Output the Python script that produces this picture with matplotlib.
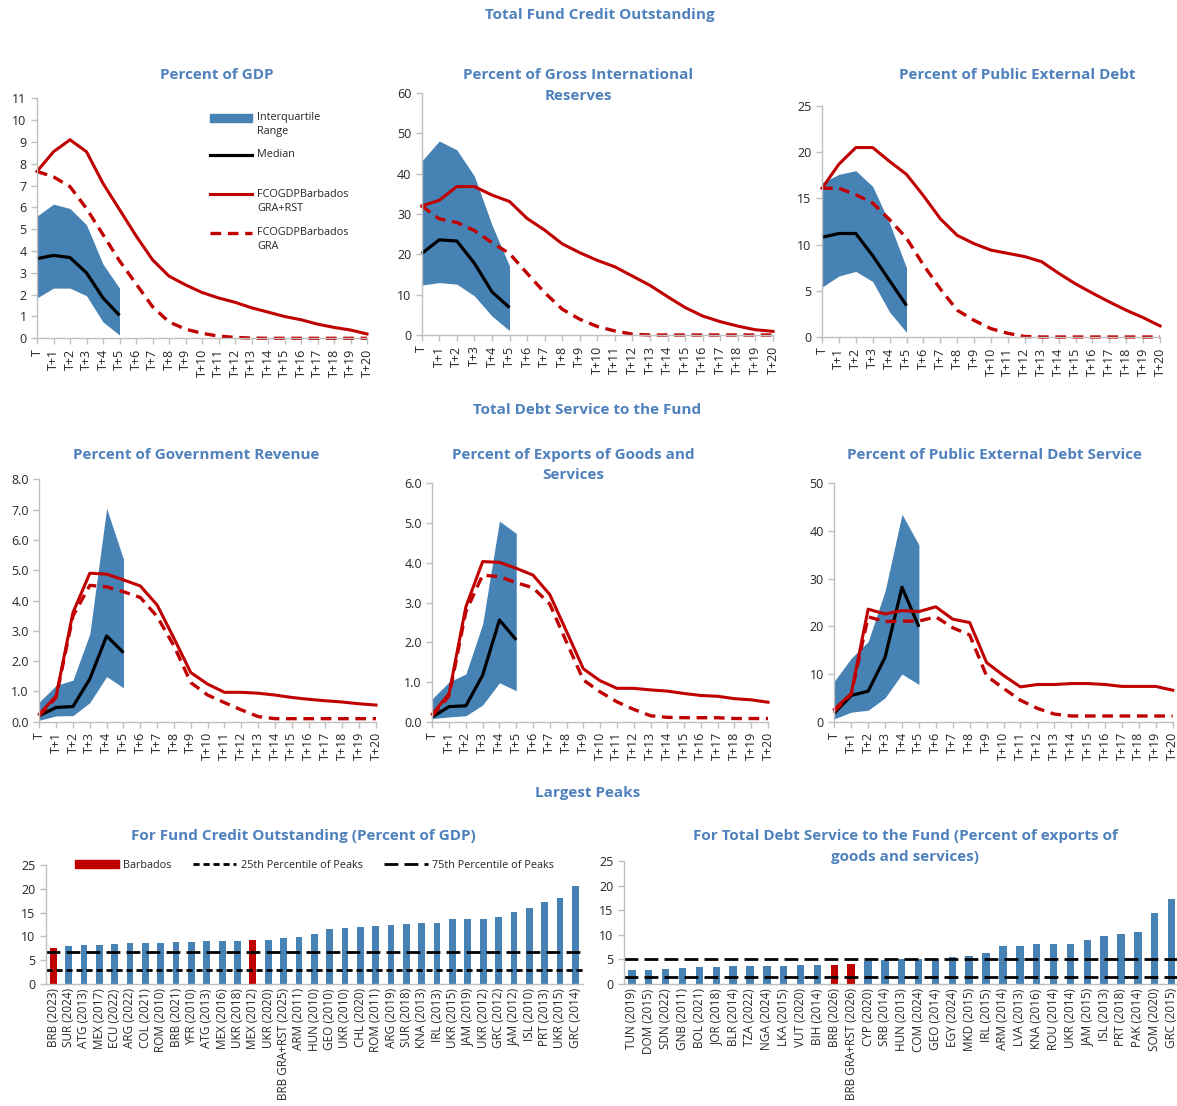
import numpy as np
import matplotlib
matplotlib.use("Agg")
import matplotlib.pyplot as plt
from matplotlib.patches import Rectangle, Patch
from matplotlib.lines import Line2D

plt.rcParams['font.family'] = ['Open Sans', 'DejaVu Sans']

W, H = 1177, 1106
BLUE = '#4682B4'
TITLE = '#4F81BD'
RED = '#C00000'
AXIS = '#BFBFBF'
TXT = '#262626'

# --- data ---
periods = ['T'] + [f'T+{i}' for i in range(1, 21)]

# Fund credit outstanding, percent of GDP
gdp_rst = [7.65, 8.55, 9.1, 8.55, 7.1, 5.9, 4.7, 3.6, 2.85, 2.45, 2.1, 1.85, 1.65, 1.4, 1.2, 1.0, 0.85, 0.65, 0.5, 0.38, 0.2]
gdp_gra = [7.65, 7.4, 6.95, 5.95, 4.75, 3.55, 2.5, 1.45, 0.75, 0.42, 0.23, 0.1, 0.04, 0.01, 0, 0, 0, 0, 0, 0, 0]
gdp_lo = [1.85, 2.3, 2.3, 1.95, 0.75, 0.15]
gdp_hi = [5.6, 6.15, 5.95, 5.2, 3.4, 2.3]
gdp_med = [3.65, 3.8, 3.7, 3.0, 1.85, 1.05]

# percent of gross international reserves
res_rst = [32.0, 33.4, 36.8, 36.8, 34.7, 33.1, 28.9, 26.0, 22.6, 20.4, 18.5, 16.9, 14.6, 12.3, 9.5, 6.8, 4.7, 3.3, 2.2, 1.3, 0.9]
res_gra = [32.0, 28.8, 27.9, 25.9, 22.9, 20.2, 15.3, 10.5, 6.4, 3.9, 2.1, 1.0, 0.2, 0, 0, 0, 0, 0, 0, 0, 0]
res_lo = [12.4, 13.0, 12.6, 9.7, 4.7, 1.1]
res_hi = [43.1, 48.1, 45.9, 39.4, 27.3, 17.1]
res_med = [20.2, 23.6, 23.3, 17.8, 10.7, 6.8]

# percent of public external debt
ped_rst = [16.1, 18.7, 20.5, 20.5, 19.0, 17.6, 15.3, 12.8, 11.0, 10.1, 9.4, 9.05, 8.7, 8.15, 6.9, 5.75, 4.75, 3.8, 2.9, 2.1, 1.2]
ped_gra = [16.1, 16.1, 15.4, 14.5, 12.7, 10.7, 7.8, 5.2, 2.9, 1.8, 0.9, 0.4, 0.05, 0, 0, 0, 0, 0, 0, 0, 0]
ped_lo = [5.4, 6.6, 7.1, 6.0, 2.7, 0.5]
ped_hi = [16.7, 17.6, 18.0, 16.3, 12.3, 7.5]
ped_med = [10.8, 11.2, 11.2, 8.8, 6.1, 3.4]

# Debt service, percent of government revenue
rev_rst = [0.25, 0.85, 3.6, 4.9, 4.87, 4.68, 4.48, 3.85, 2.75, 1.62, 1.24, 0.97, 0.97, 0.94, 0.88, 0.8, 0.74, 0.69, 0.65, 0.59, 0.55]
rev_gra = [0.2, 0.8, 3.49, 4.5, 4.45, 4.29, 4.1, 3.47, 2.5, 1.29, 0.88, 0.63, 0.39, 0.17, 0.1, 0.1, 0.1, 0.1, 0.1, 0.1, 0.1]
rev_lo = [0.05, 0.19, 0.2, 0.63, 1.49, 1.12]
rev_hi = [0.65, 1.2, 1.37, 2.9, 7.04, 5.36]
rev_med = [0.2, 0.47, 0.5, 1.41, 2.83, 2.28]

# percent of exports of goods and services
exp_rst = [0.19, 0.71, 2.89, 4.03, 4.01, 3.86, 3.69, 3.2, 2.27, 1.33, 1.03, 0.84, 0.84, 0.8, 0.77, 0.71, 0.66, 0.64, 0.58, 0.55, 0.49]
exp_gra = [0.15, 0.65, 2.77, 3.69, 3.65, 3.5, 3.37, 2.96, 2.0, 1.05, 0.75, 0.5, 0.31, 0.15, 0.11, 0.1, 0.1, 0.1, 0.08, 0.08, 0.08]
exp_lo = [0.08, 0.12, 0.15, 0.42, 0.98, 0.78]
exp_hi = [0.58, 1.0, 1.2, 2.46, 5.05, 4.74]
exp_med = [0.12, 0.38, 0.4, 1.17, 2.56, 2.06]

# percent of public external debt service
eds_rst = [2.6, 5.9, 23.6, 22.6, 23.3, 23.1, 24.1, 21.5, 20.8, 12.4, 9.7, 7.3, 7.8, 7.8, 8.0, 8.0, 7.8, 7.4, 7.4, 7.4, 6.6]
eds_gra = [2.2, 5.8, 22.0, 21.0, 21.1, 21.1, 22.0, 19.7, 18.2, 9.6, 7.0, 4.5, 2.8, 1.6, 1.2, 1.2, 1.2, 1.2, 1.2, 1.2, 1.2]
eds_lo = [0.6, 2.0, 2.4, 5.0, 10.0, 7.8]
eds_hi = [8.5, 13.3, 16.8, 27.4, 43.5, 37.1]
eds_med = [1.8, 5.5, 6.4, 13.5, 28.2, 19.9]

# Largest peaks: fund credit outstanding (% of GDP)
fco_labels = ['BRB (2023)', 'SUR (2024)', 'ATG (2013)', 'MEX (2017)', 'ECU (2022)', 'ARG (2022)',
              'COL (2021)', 'ROM (2010)', 'BRB (2021)', 'YFR (2010)', 'ATG (2013)', 'MEX (2016)',
              'UKR (2018)', 'MEX (2012)', 'UKR (2020)', 'BRB GRA+RST (2025)', 'ARM (2011)',
              'HUN (2010)', 'GEO (2010)', 'UKR (2010)', 'CHL (2020)', 'ROM (2011)', 'ARG (2019)',
              'SUR (2018)', 'KNA (2013)', 'IRL (2013)', 'UKR (2015)', 'JAM (2019)', 'UKR (2012)',
              'GRC (2012)', 'JAM (2012)', 'ISL (2010)', 'PRT (2013)', 'UKR (2015)', 'GRC (2014)']
fco_values = [7.5, 8.0, 8.2, 8.2, 8.4, 8.6, 8.6, 8.6, 8.8, 8.8, 9.0, 9.0, 9.0, 9.3, 9.3, 9.7, 9.9,
              10.5, 11.5, 11.8, 12.0, 12.2, 12.4, 12.6, 12.8, 12.8, 13.6, 13.6, 13.6, 14.1, 15.1,
              16.0, 17.2, 18.1, 20.6]
fco_barbados = [0, 13]
fco_p25, fco_p75 = 2.9, 6.7

# Largest peaks: debt service to the Fund (% of exports)
tds_labels = ['TUN (2019)', 'DOM (2015)', 'SDN (2022)', 'GNB (2011)', 'BOL (2021)', 'JOR (2018)',
              'BLR (2014)', 'TZA (2022)', 'NGA (2024)', 'LKA (2015)', 'VUT (2020)', 'BIH (2014)',
              'BRB (2026)', 'BRB GRA+RST (2026)', 'CYP (2020)', 'SRB (2014)', 'HUN (2013)',
              'COM (2024)', 'GEO (2014)', 'EGY (2024)', 'MKD (2015)', 'IRL (2015)', 'ARM (2014)',
              'LVA (2013)', 'KNA (2016)', 'ROU (2014)', 'UKR (2014)', 'JAM (2015)', 'ISL (2013)',
              'PRT (2018)', 'PAK (2014)', 'SOM (2020)', 'GRC (2015)']
tds_values = [2.8, 2.8, 3.0, 3.2, 3.4, 3.4, 3.6, 3.6, 3.6, 3.6, 3.85, 3.85, 3.85, 4.1, 4.6, 4.9,
              5.0, 5.0, 5.0, 5.4, 5.7, 6.2, 7.8, 7.8, 8.2, 8.2, 8.2, 8.9, 9.7, 10.1, 10.5, 14.5, 17.2]
tds_barbados = [12, 13]
tds_p25, tds_p75 = 1.4, 5.0

fig = plt.figure(figsize=(W / 100, H / 100), dpi=100)


def px_axes(x0, y0, x1, y1):
    # box given in pixels from the top-left corner of the picture
    return fig.add_axes([x0 / W, 1 - y1 / H, (x1 - x0) / W, (y1 - y0) / H])


def fig_title(x, y, s, size=11):
    fig.text(x / W, 1 - y / H, s, ha='center', va='center', color=TITLE,
             fontsize=size, fontweight='bold', linespacing=1.55)


def style(ax, size=9):
    for side in ['top', 'right']:
        ax.spines[side].set_visible(False)
    for side in ['left', 'bottom']:
        ax.spines[side].set_color(AXIS)
        ax.spines[side].set_linewidth(1)
    ax.tick_params(colors=AXIS, labelcolor=TXT, labelsize=size, length=4, width=1)


def line_panel(box, ymax, ystep, lo, hi, med, rst, gra, fmt='{:.0f}'):
    ax = px_axes(*box)
    x = np.arange(len(periods))
    xi = np.arange(len(lo))
    ax.fill_between(xi, lo, hi, color=BLUE, lw=0)
    ax.plot(xi, med, color='black', lw=2.3, clip_on=False, solid_capstyle='butt')
    ax.plot(x, rst, color=RED, lw=2.2, clip_on=False)
    ax.plot(x, gra, color=RED, lw=2.4, ls=(0, (3.2, 2.0)), clip_on=False)
    ax.set_xlim(0, 20)
    ax.set_ylim(0, ymax)
    yt = np.arange(0, ymax + ystep / 2, ystep)
    ax.set_yticks(yt)
    ax.set_yticklabels([fmt.format(v) for v in yt])
    ax.set_xticks(x)
    ax.set_xticklabels(periods, rotation=90)
    style(ax)
    return ax


def bar_panel(box, xmax, labels, values, brb, p25, p75, dash25, dash75):
    ax = px_axes(*box)
    x = np.arange(len(values))
    colors = [RED if i in brb else BLUE for i in x]
    ax.bar(x, values, width=0.44, color=colors)
    ax.axhline(p25, color='black', lw=2, ls=dash25)
    ax.axhline(p75, color='black', lw=2, ls=dash75)
    ax.set_xlim(-0.47, xmax)
    ax.set_ylim(0, 25)
    ax.set_yticks(np.arange(0, 26, 5))
    ax.set_xticks(x)
    ax.set_xticklabels(labels, rotation=90)
    style(ax)
    ax.tick_params(axis='x', length=0, pad=3, labelsize=8.5)
    return ax


# --- top row: fund credit outstanding ---
ax1 = line_panel((37, 98.3, 367, 338.3), 11, 1, gdp_lo, gdp_hi, gdp_med, gdp_rst, gdp_gra)
line_panel((421.7, 93, 773, 335), 60, 10, res_lo, res_hi, res_med, res_rst, res_gra)
line_panel((822, 106, 1160, 337), 25, 5, ped_lo, ped_hi, ped_med, ped_rst, ped_gra)

# legend of the first panel, handles aligned with the first line of text
tr = ax1.transAxes
leg_rows = [0.919, 0.764, 0.600, 0.440]
ax1.add_patch(Rectangle((0.524, leg_rows[0] - 0.016), 0.128, 0.032, transform=tr,
                        color=BLUE, clip_on=False))
ax1.plot([0.524, 0.652], [leg_rows[1]] * 2, transform=tr, color='black', lw=2.3, clip_on=False)
ax1.plot([0.524, 0.652], [leg_rows[2]] * 2, transform=tr, color=RED, lw=2.2, clip_on=False)
ax1.plot([0.524, 0.652], [leg_rows[3]] * 2, transform=tr, color=RED, lw=2.4,
         ls=(0, (3.2, 2.0)), clip_on=False)
leg_text = [['Interquartile', 'Range'], ['Median'], ['FCOGDPBarbados', 'GRA+RST'],
            ['FCOGDPBarbados', 'GRA']]
for yrow, lines in zip(leg_rows, leg_text):
    for k, s in enumerate(lines):
        ax1.text(0.667, yrow - k * 0.058, s, transform=tr, fontsize=7.8, color=TXT,
                 va='center', ha='left')

# --- middle row: debt service to the Fund ---
line_panel((39.3, 479.3, 376, 721.7), 8, 1, rev_lo, rev_hi, rev_med, rev_rst, rev_gra, fmt='{:.1f}')
line_panel((432.3, 483.3, 768, 721.7), 6, 1, exp_lo, exp_hi, exp_med, exp_rst, exp_gra, fmt='{:.1f}')
line_panel((834.3, 483.3, 1172.7, 721.7), 50, 10, eds_lo, eds_hi, eds_med, eds_rst, eds_gra)

# --- bottom row: largest peaks ---
axb1 = bar_panel((46, 865, 583, 984), 34.5, fco_labels, fco_values, fco_barbados,
                 fco_p25, fco_p75, (0, (2.2, 1.4)), (0, (5, 2.2)))
bar_panel((624, 861, 1180, 984), 32.5, tds_labels, tds_values, tds_barbados,
          tds_p25, tds_p75, (0, (5, 2.2)), (0, (5, 2.2)))

handles = [Patch(color=RED),
           Line2D([], [], color='black', lw=2, ls=(0, (2.2, 1.4))),
           Line2D([], [], color='black', lw=2, ls=(0, (5, 2.2)))]
axb1.legend(handles, ['Barbados', '25th Percentile of Peaks', '75th Percentile of Peaks'],
            ncol=3, loc='center', bbox_to_anchor=(0.5, 1.0), frameon=False, fontsize=7.8,
            handlelength=4.0, columnspacing=2.0, handletextpad=0.4, labelcolor=TXT)

# --- titles ---
fig_title(600, 15, 'Total Fund Credit Outstanding')
fig_title(217, 75, 'Percent of GDP')
fig_title(578, 85.5, 'Percent of Gross International\nReserves')
fig_title(1017, 75, 'Percent of Public External Debt')
fig_title(587, 410, 'Total Debt Service to the Fund')
fig_title(196, 455, 'Percent of Government Revenue')
fig_title(573, 465, 'Percent of Exports of Goods and\nServices')
fig_title(994, 455, 'Percent of Public External Debt Service')
fig_title(588, 793, 'Largest Peaks')
fig_title(303, 836, 'For Fund Credit Outstanding (Percent of GDP)')
fig_title(905, 846.5, 'For Total Debt Service to the Fund (Percent of exports of\ngoods and services)')

fig.savefig('out.png', dpi=100)
